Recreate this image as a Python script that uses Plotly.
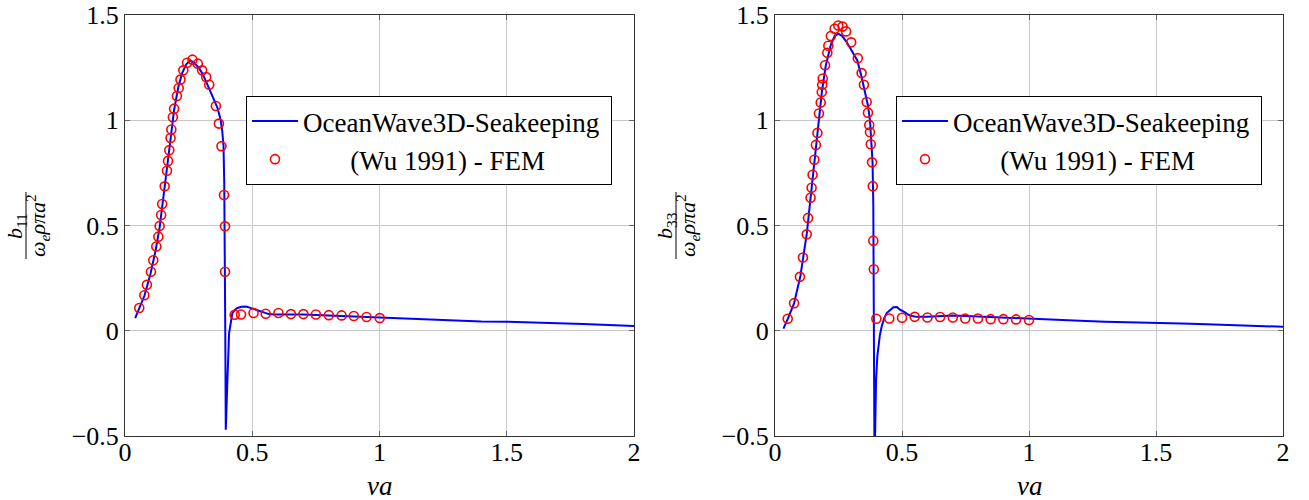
import plotly.graph_objects as go

# ---------------- data ----------------
# Left panel: b11
line_x_b11 = [0.040, 0.056, 0.076, 0.10, 0.12, 0.136, 0.15, 0.165, 0.18, 0.193, 0.21, 0.225, 0.24, 0.256,
              0.27, 0.29, 0.305, 0.32, 0.334, 0.35, 0.363, 0.37, 0.376, 0.382, 0.387, 0.390, 0.392, 0.394,
              0.396, 0.397, 0.399, 0.403, 0.409, 0.415, 0.422, 0.432, 0.442, 0.458, 0.475, 0.49, 0.507,
              0.525, 0.546, 0.565, 0.585, 0.62, 0.7, 0.8, 0.9, 1.0, 1.1, 1.2, 1.3, 1.4, 1.5, 1.6, 1.7,
              1.8, 1.9, 2.0]
line_y_b11 = [0.060, 0.105, 0.165, 0.27, 0.38, 0.49, 0.62, 0.76, 0.92, 1.05, 1.16, 1.225, 1.265, 1.284,
              1.275, 1.25, 1.22, 1.18, 1.14, 1.10, 1.06, 1.03, 1.0, 0.95, 0.88, 0.70, 0.45, 0.0,
              -0.47, -0.42, -0.32, -0.216, -0.011, 0.04, 0.084, 0.10, 0.108, 0.114, 0.115, 0.11, 0.103,
              0.094, 0.084, 0.079, 0.077, 0.077, 0.077, 0.073, 0.068, 0.063, 0.058, 0.052, 0.046, 0.044,
              0.043, 0.040, 0.036, 0.032, 0.027, 0.022]
fem_x_b11 = [0.056, 0.076, 0.086, 0.102, 0.111, 0.123, 0.131, 0.136, 0.142, 0.146, 0.156, 0.165, 0.169,
             0.174, 0.179, 0.182, 0.188, 0.193, 0.204, 0.211, 0.218, 0.229, 0.244, 0.265, 0.286, 0.303,
             0.319, 0.331, 0.357, 0.369, 0.379, 0.389, 0.393, 0.393, 0.431, 0.456, 0.505, 0.553, 0.603,
             0.652, 0.701, 0.750, 0.801, 0.851, 0.899, 0.949, 1.001]
fem_y_b11 = [0.108, 0.169, 0.218, 0.280, 0.335, 0.400, 0.447, 0.498, 0.550, 0.602, 0.686, 0.760, 0.807,
             0.858, 0.916, 0.956, 1.014, 1.055, 1.115, 1.153, 1.193, 1.237, 1.273, 1.288, 1.269, 1.237,
             1.205, 1.169, 1.068, 0.984, 0.877, 0.645, 0.496, 0.280, 0.076, 0.077, 0.084, 0.081, 0.084,
             0.079, 0.079, 0.077, 0.074, 0.073, 0.070, 0.065, 0.060]

# Right panel: b33
line_x_b33 = [0.033, 0.05, 0.075, 0.10, 0.125, 0.14, 0.155, 0.17, 0.185, 0.20, 0.22, 0.235, 0.249, 0.265,
              0.28, 0.30, 0.324, 0.34, 0.357, 0.366, 0.374, 0.38, 0.384, 0.387, 0.389, 0.390, 0.392,
              0.394, 0.398, 0.403, 0.407, 0.413, 0.420, 0.430, 0.440, 0.455, 0.466, 0.48, 0.492, 0.51,
              0.525, 0.54, 0.558, 0.6, 0.7, 0.8, 0.9, 1.0, 1.1, 1.2, 1.3, 1.4, 1.5, 1.6, 1.7, 1.8, 1.9, 2.0]
line_y_b33 = [0.01, 0.055, 0.13, 0.26, 0.46, 0.63, 0.81, 0.98, 1.14, 1.26, 1.36, 1.40, 1.411, 1.40,
              1.375, 1.335, 1.284, 1.21, 1.127, 1.07, 1.0, 0.9, 0.8, 0.6, 0.0, -0.7, -0.7,
              -0.5, -0.232, -0.12, -0.074, -0.02, 0.02, 0.06, 0.084, 0.103, 0.112, 0.113, 0.10, 0.088,
              0.076, 0.07, 0.066, 0.066, 0.072, 0.068, 0.062, 0.058, 0.052, 0.047, 0.043, 0.041, 0.039,
              0.035, 0.031, 0.027, 0.023, 0.019]
fem_x_b33 = [0.050, 0.075, 0.098, 0.110, 0.125, 0.130, 0.140, 0.144, 0.148, 0.155, 0.161, 0.167, 0.173,
             0.180, 0.184, 0.186, 0.188, 0.197, 0.206, 0.210, 0.220, 0.235, 0.249, 0.266, 0.280, 0.300,
             0.326, 0.341, 0.350, 0.361, 0.366, 0.371, 0.374, 0.377, 0.382, 0.385, 0.387, 0.389, 0.399,
             0.450, 0.500, 0.550, 0.600, 0.650, 0.700, 0.749, 0.799, 0.849, 0.899, 0.949, 1.000]
fem_y_b33 = [0.057, 0.131, 0.256, 0.348, 0.458, 0.536, 0.632, 0.679, 0.741, 0.812, 0.883, 0.940, 1.032,
             1.084, 1.134, 1.169, 1.198, 1.261, 1.321, 1.354, 1.400, 1.435, 1.450, 1.445, 1.422, 1.370,
             1.295, 1.224, 1.169, 1.087, 1.036, 0.978, 0.943, 0.886, 0.800, 0.687, 0.428, 0.292, 0.057,
             0.058, 0.062, 0.066, 0.063, 0.065, 0.063, 0.058, 0.058, 0.055, 0.055, 0.054, 0.051]

line_name = "OceanWave3D-Seakeeping"
fem_name = "(Wu 1991) - FEM"
x_ticks = [0, 0.5, 1, 1.5, 2]
y_ticks = [-0.5, 0, 0.5, 1, 1.5]

# ---------------- figure ----------------
W, H = 1309, 500


def px(X):
    return X / W


def py(Y):
    return 1 - Y / H


FONT = "Liberation Serif, Times New Roman, DejaVu Serif, serif"
BLUE = "#0000ff"
RED = "#ff0000"

fig = go.Figure()
pad = "\u00a0" * 7
for i, (lx, ly, fx, fy) in enumerate([(line_x_b11, line_y_b11, fem_x_b11, fem_y_b11),
                                      (line_x_b33, line_y_b33, fem_x_b33, fem_y_b33)]):
    xa = "x" if i == 0 else "x2"
    ya = "y" if i == 0 else "y2"
    lg = "legend" if i == 0 else "legend2"
    fig.add_trace(go.Scatter(x=lx, y=ly, mode="lines", name=line_name + "\u00a0", xaxis=xa, yaxis=ya,
                             legend=lg, line=dict(color=BLUE, width=2)))
    fig.add_trace(go.Scatter(x=fx, y=fy, mode="markers", name=pad + fem_name, xaxis=xa, yaxis=ya, legend=lg,
                             marker=dict(symbol="circle-open", size=9, color=RED, line=dict(width=1.6, color=RED))))

x_left = (125, 634)
x_right = (775, 1283)
y_top, y_bot = 15, 436

axis_common = dict(showline=True, linecolor="#333333", linewidth=1, mirror="ticks", automargin=False,
                   ticks="inside", ticklen=5, tickcolor="#666666", tickwidth=1,
                   showgrid=True, gridcolor="#c8c8c8", gridwidth=1, zeroline=False,
                   ticklabeloverflow="allow",
                   tickfont=dict(family=FONT, size=26, color="black"))

legend_common = dict(y=py(96), xanchor="left", yanchor="top", bgcolor="white", bordercolor="black",
                     borderwidth=1, font=dict(family=FONT, size=27, color="black"), itemwidth=46,
                     tracegroupgap=0)

fig.update_layout(
    template="none",
    font=dict(family=FONT, color="black"),
    width=W, height=H, margin=dict(l=0, r=0, t=0, b=0, pad=0, autoexpand=False),
    plot_bgcolor="white", paper_bgcolor="white",
    xaxis=dict(domain=[px(x_left[0]), px(x_left[1])], range=[0, 2], tickvals=x_ticks, anchor="y",
               ticklabelstandoff=-7, **axis_common),
    yaxis=dict(domain=[py(y_bot), py(y_top)], range=[-0.5, 1.5], tickvals=y_ticks, anchor="x",
               ticklabelstandoff=0, **axis_common),
    xaxis2=dict(domain=[px(x_right[0]), px(x_right[1])], range=[0, 2], tickvals=x_ticks, anchor="y2",
                ticklabelstandoff=-7, **axis_common),
    yaxis2=dict(domain=[py(y_bot), py(y_top)], range=[-0.5, 1.5], tickvals=y_ticks, anchor="x2",
                ticklabelstandoff=0, **axis_common),
    legend=dict(x=px(246), **legend_common),
    legend2=dict(x=px(896), **legend_common),
    showlegend=True,
)

annotations = []
shapes = []
for off, sub in [(0, "11"), (650, "33")]:
    # x-axis title
    cx = (x_left[0] + x_left[1]) / 2 + off
    annotations.append(dict(x=px(cx), y=py(486), xref="paper", yref="paper", text="<i>νa</i>",
                            showarrow=False, xanchor="center", yanchor="middle",
                            font=dict(family=FONT, size=27, color="black")))
    # y-axis title as a fraction
    annotations.append(dict(x=px(16 + off), y=py(226), xref="paper", yref="paper",
                            text="<i>b</i><sub>" + sub + "</sub>", textangle=-90, showarrow=False,
                            xanchor="center", yanchor="middle", font=dict(family=FONT, size=22, color="black")))
    annotations.append(dict(x=px(38 + off), y=py(226), xref="paper", yref="paper",
                            text="<i>ω</i><sub><i>e</i></sub><i>ρπa</i><sup>2</sup>", textangle=-90,
                            showarrow=False, xanchor="center", yanchor="middle",
                            font=dict(family=FONT, size=22, color="black")))
    shapes.append(dict(type="line", xref="paper", yref="paper", x0=px(26 + off), x1=px(26 + off),
                       y0=py(192), y1=py(259), line=dict(color="black", width=1)))

fig.update_layout(annotations=annotations, shapes=shapes)
# remove the default 8px page margin so the 1309x500 figure fills the window exactly
fig.write_html("out.html", config={"displayModeBar": False},
               post_script="document.body.style.margin='0';")
